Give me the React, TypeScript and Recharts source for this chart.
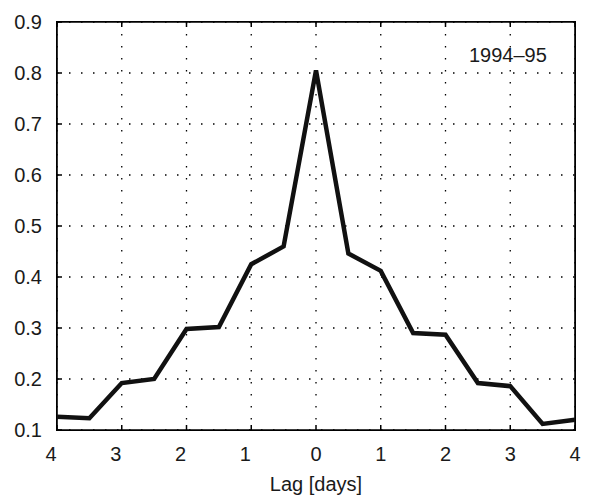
import { LineChart, Line, XAxis, YAxis, CartesianGrid, ReferenceArea } from 'recharts'

// lag in days (negative = left half of the plot, labels shown as absolute values)
const lags = [-4, -3.5, -3, -2.5, -2, -1.5, -1, -0.5, 0, 0.5, 1, 1.5, 2, 2.5, 3, 3.5, 4]
const corr = [
  0.126, 0.123, 0.192, 0.2, 0.298, 0.302, 0.425, 0.46, 0.805, 0.446, 0.412, 0.29, 0.287,
  0.192, 0.186, 0.112, 0.12,
]
const xTicks = [-4, -3, -2, -1, 0, 1, 2, 3, 4]
const yTicks = [0.1, 0.2, 0.3, 0.4, 0.5, 0.6, 0.7, 0.8, 0.9]

const data = lags.map((lag, i) => ({ lag, r: corr[i] }))

const FONT = '"Liberation Sans", Arial, sans-serif'
const INK = '#000'
const TICK = 5

// bottom axis: inward tick mark + absolute-value label
function BottomTick(props: any) {
  const { x, y, payload } = props
  const v = payload.value as number
  return (
    <g>
      <line x1={x} y1={y - 17} x2={x} y2={y - 17 - TICK} stroke={INK} strokeWidth={1.5} />
      <text
        x={x + (v < 0 ? -6 : 0)}
        y={y}
        dy="0.71em"
        textAnchor="middle"
        fontSize={20}
        fontFamily={FONT}
        fill="#1a1a1a"
      >
        {Math.abs(v)}
      </text>
    </g>
  )
}

function LeftTick(props: any) {
  const { x, y, payload } = props
  return (
    <g>
      <line x1={x + 15} y1={y} x2={x + 15 + TICK} y2={y} stroke={INK} strokeWidth={1.5} />
      <text x={x} y={y} dy="0.355em" textAnchor="end" fontSize={20} fontFamily={FONT} fill="#1a1a1a">
        {(payload.value as number).toFixed(1)}
      </text>
    </g>
  )
}

function TopTick(props: any) {
  const { x, y } = props
  return <line x1={x} y1={y} x2={x} y2={y + TICK} stroke={INK} strokeWidth={1.5} />
}

function RightTick(props: any) {
  const { x, y } = props
  return <line x1={x} y1={y} x2={x - TICK} y2={y} stroke={INK} strokeWidth={1.5} />
}

export default function App() {
  return (
    <div style={{ position: 'absolute', left: 0, top: 0, width: 591, height: 496, background: '#fff' }}>
      <LineChart
        width={591}
        height={496}
        data={data}
        margin={{ top: 21, right: 15, left: 0, bottom: 0 }}
      >
        <CartesianGrid
          stroke="#000"
          strokeWidth={1.3}
          strokeDasharray="1.5 10.5"
          horizontalValues={yTicks}
          verticalValues={xTicks}
        />
        <XAxis
          dataKey="lag"
          type="number"
          domain={[-4, 4]}
          ticks={xTicks}
          height={66}
          tickSize={0}
          tickMargin={17}
          tick={<BottomTick />}
          axisLine={false}
          tickLine={false}
          label={{
            value: 'Lag [days]',
            position: 'insideBottom',
            offset: 5,
            fontSize: 20,
            fontFamily: FONT,
            fill: '#1a1a1a',
          }}
        />
        <XAxis
          xAxisId="top"
          orientation="top"
          dataKey="lag"
          type="number"
          domain={[-4, 4]}
          ticks={xTicks}
          height={1}
          tickSize={0}
          tickMargin={0}
          tick={<TopTick />}
          axisLine={false}
          tickLine={false}
        />
        <YAxis
          type="number"
          domain={[0.1, 0.9]}
          ticks={yTicks}
          width={57}
          tickSize={0}
          tickMargin={15}
          tick={<LeftTick />}
          axisLine={false}
          tickLine={false}
        />
        <YAxis
          yAxisId="right"
          orientation="right"
          type="number"
          domain={[0.1, 0.9]}
          ticks={yTicks}
          width={1}
          tickSize={0}
          tickMargin={0}
          tick={<RightTick />}
          axisLine={false}
          tickLine={false}
        />
        <ReferenceArea
          x1={-4}
          x2={4}
          y1={0.1}
          y2={0.9}
          fill="none"
          stroke={INK}
          strokeWidth={1.6}
          ifOverflow="visible"
        />
        <Line
          dataKey="r"
          stroke="#111"
          strokeWidth={4.5}
          dot={false}
          activeDot={false}
          isAnimationActive={false}
        />
      </LineChart>
      {/* plot frame, same place as the plot box */}
      <div
        style={{
          position: 'absolute',
          left: 56.25,
          top: 21.25,
          width: 519.5,
          height: 409.5,
          boxSizing: 'border-box',
          border: '1.5px solid #000',
          pointerEvents: 'none',
        }}
      />
      <div
        style={{
          position: 'absolute',
          left: 469,
          top: 43,
          fontSize: 20,
          fontFamily: FONT,
          color: '#1a1a1a',
          lineHeight: '24px',
          whiteSpace: 'nowrap',
        }}
      >
        1994–95
      </div>
    </div>
  )
}
